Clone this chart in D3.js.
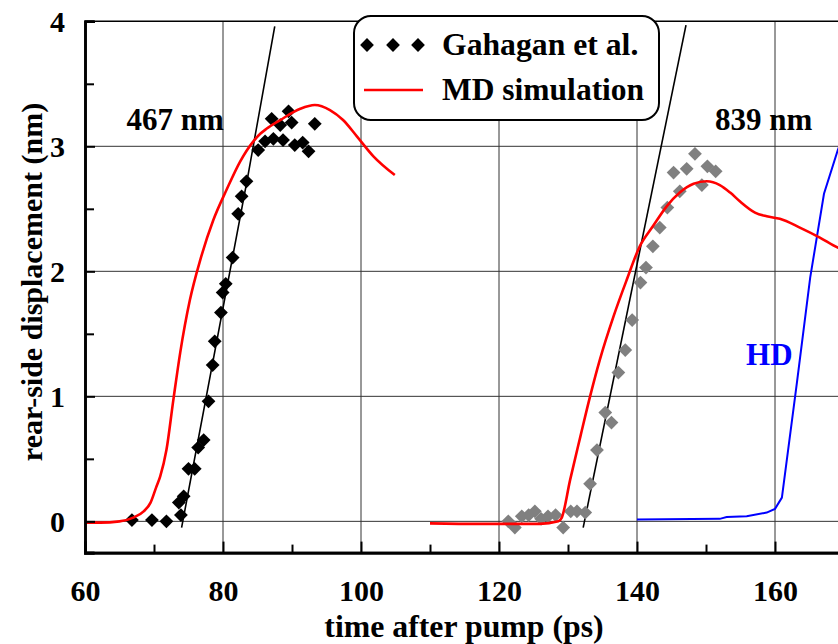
<!DOCTYPE html>
<html>

<head>
  <meta charset="utf8">
  <script src="https://d3js.org/d3.v7.min.js"></script>
  <style>
    body { margin: 0; background: #fff; }
    svg text { font-family: "Liberation Serif", "DejaVu Serif", serif !important; font-weight: bold; fill: black; }
  </style>
</head>

<body>
  <svg id="chart" width="838" height="644" font-family="Liberation Serif"></svg>
  <script>
    // Gahagan et al. measurements, 467 nm film (time ps, displacement nm)
    var gahagan467 = [
      [66.8, 0.01], [69.7, 0.01], [71.8, 0.0], [73.9, 0.05], [73.6, 0.15], [74.3, 0.2],
      [75.0, 0.42], [75.9, 0.42], [76.4, 0.59], [77.2, 0.65], [77.9, 0.96], [78.5, 1.25],
      [78.8, 1.44], [79.7, 1.67], [79.95, 1.83], [80.4, 1.9], [81.4, 2.11], [82.2, 2.46],
      [82.7, 2.6], [83.4, 2.72], [85.1, 2.97], [86.1, 3.04], [87.3, 3.06], [88.7, 3.05],
      [87.05, 3.22], [88.3, 3.17], [89.5, 3.28], [89.95, 3.19], [90.4, 3.01], [91.55, 3.03],
      [92.4, 2.96], [93.3, 3.18]
    ];
    // Gahagan et al. measurements, 839 nm film
    var gahagan839 = [
      [121.35, 0.0], [122.3, -0.05], [123.3, 0.04], [124.3, 0.05], [125.2, 0.08], [126.1, 0.02],
      [127.1, 0.04], [128.2, 0.05], [129.3, -0.05], [130.4, 0.08], [131.3, 0.08], [132.5, 0.07],
      [133.2, 0.3], [134.2, 0.57], [135.4, 0.87], [136.3, 0.79], [137.3, 1.19], [138.3, 1.37],
      [139.3, 1.61], [140.5, 1.91], [141.3, 2.03], [142.3, 2.2], [143.3, 2.35], [144.4, 2.51],
      [146.2, 2.64], [145.3, 2.79], [147.2, 2.82], [148.4, 2.94], [149.4, 2.69], [150.2, 2.84],
      [151.4, 2.8]
    ];
    // MD simulation curves
    var md467 = [
      [60, -0.01], [62.2, -0.01], [65, 0.0], [67, 0.03], [68.5, 0.08], [69.5, 0.15], [70.3, 0.27],
      [70.9, 0.36], [71.8, 0.57], [72.8, 0.97], [73.8, 1.35], [75.2, 1.77], [76.7, 2.09],
      [78.6, 2.41], [80.5, 2.65], [82.5, 2.88], [84.4, 3.04], [85.4, 3.1], [86.3, 3.14],
      [88.3, 3.21], [91.2, 3.3], [93.3, 3.33], [95.5, 3.29], [97.4, 3.21], [99.4, 3.08],
      [101.8, 2.92], [104.9, 2.77]
    ];
    var md839 = [
      [110, -0.016], [117.2, -0.02], [125.9, -0.02], [128.6, 0.0], [129.1, 0.03], [130.3, 0.33],
      [131.8, 0.68], [133.2, 1.0], [134.6, 1.29], [136.6, 1.64], [138.5, 1.93], [140.4, 2.2],
      [142.3, 2.36], [144.3, 2.52], [146.2, 2.63], [148.2, 2.7], [150.1, 2.72], [152.0, 2.69],
      [153.5, 2.63], [154.9, 2.56], [157.1, 2.47], [158.8, 2.44], [160.7, 2.42], [163.6, 2.35],
      [166.5, 2.27], [169.1, 2.19], [170, 2.17]
    ];
    // hydrodynamic (HD) result
    var hd = [
      [140, 0.015], [152, 0.02], [153, 0.035], [155.9, 0.04], [158.8, 0.07], [160, 0.1],
      [161, 0.19], [163.2, 1.12], [165.1, 1.95], [167.1, 2.62], [169.1, 2.97], [170, 3.1]
    ];
    // fitted straight lines
    var fit467 = [[74.0, -0.05], [83.6, 2.76], [87.5, 3.96]];
    var fit839 = [[132.2, -0.05], [147.1, 3.97]];

    var xMajor = [60, 80, 100, 120, 140, 160];
    var xMinor = [70, 90, 110, 130, 150, 170];
    var yMajor = [0, 1, 2, 3, 4];
    var yMinor = [0.5, 1.5, 2.5, 3.5];
    var annotations = [
      { text: '467 nm', t: 66.0, v: 3.13, color: 'black' },
      { text: '839 nm', t: 151.3, v: 3.13, color: 'black' },
      { text: 'HD', t: 155.8, v: 1.25, color: '#0000ff' }
    ];

    var FONT = '"Liberation Serif", "DejaVu Serif", serif';
    var chart = d3.select('#chart');
    var x = d3.scaleLinear().domain([60, 170]).range([85, 844]);
    var y = d3.scaleLinear().domain([-0.25, 4]).range([552.6, 21.3]);

    chart.append('defs').append('clipPath').attr('id', 'plot')
      .append('rect').attr('x', 85).attr('y', 0).attr('width', 760).attr('height', 553);

    // grid
    var grid = chart.append('g').attr('stroke', '#333').attr('stroke-width', 1);
    grid.selectAll('.gx').data(xMajor.slice(1)).enter().append('line')
      .attr('x1', (d) => x(d)).attr('x2', (d) => x(d))
      .attr('y1', y(-0.25)).attr('y2', y(4));
    grid.selectAll('.gy').data(yMajor.slice(0, 4)).enter().append('line')
      .attr('x1', x(60)).attr('x2', x(170))
      .attr('y1', (d) => y(d)).attr('y2', (d) => y(d));

    var plot = chart.append('g').attr('clip-path', 'url(#plot)');
    var line = d3.line().x((d) => x(d[0])).y((d) => y(d[1]));
    var smooth = d3.line().x((d) => x(d[0])).y((d) => y(d[1])).curve(d3.curveMonotoneX);

    plot.append('path').attr('d', line(fit467)).attr('fill', 'none').attr('stroke', 'black').attr('stroke-width', 1.6);
    plot.append('path').attr('d', line(fit839)).attr('fill', 'none').attr('stroke', 'black').attr('stroke-width', 1.6);
    plot.append('path').attr('d', line(hd)).attr('fill', 'none').attr('stroke', '#0000ff').attr('stroke-width', 2);

    var diamond = d3.symbol().type(d3.symbolSquare).size(95);
    plot.selectAll('.g467').data(gahagan467).enter().append('path')
      .attr('d', diamond)
      .attr('transform', (d) => 'translate(' + x(d[0]) + ',' + y(d[1]) + ') rotate(45)')
      .attr('fill', 'black');
    plot.selectAll('.g839').data(gahagan839).enter().append('path')
      .attr('d', diamond)
      .attr('transform', (d) => 'translate(' + x(d[0]) + ',' + y(d[1]) + ') rotate(45)')
      .attr('fill', '#808080');

    plot.append('path').attr('d', smooth(md467)).attr('fill', 'none').attr('stroke', '#ff0000').attr('stroke-width', 2.6);
    plot.append('path').attr('d', smooth(md839)).attr('fill', 'none').attr('stroke', '#ff0000').attr('stroke-width', 2.6);

    // axes
    var xAxis = chart.append('g').attr('transform', 'translate(0,' + y(-0.25) + ')')
      .call(d3.axisBottom(x).tickValues(xMajor).tickSize(-11).tickFormat(d3.format('d')));
    xAxis.selectAll('text').attr('y', 0).attr('dy', 48).style('font-size', '30px');
    chart.append('g').attr('transform', 'translate(0,' + y(-0.25) + ')')
      .call(d3.axisBottom(x).tickValues(xMinor).tickSize(-8).tickFormat(''));

    var yAxis = chart.append('g').attr('transform', 'translate(' + x(60) + ',0)')
      .call(d3.axisLeft(y).tickValues(yMajor).tickSize(-10).tickPadding(20).tickFormat(d3.format('d')));
    yAxis.selectAll('text').style('font-size', '30px').attr('dy', '0.35em');
    chart.append('g').attr('transform', 'translate(' + x(60) + ',0)')
      .call(d3.axisLeft(y).tickValues(yMinor).tickSize(-9).tickFormat(''));

    chart.selectAll('.domain').attr('stroke-width', 2.6);
    chart.selectAll('.tick line').attr('stroke-width', 2);

    chart.append('line').attr('x1', x(60)).attr('x2', x(170)).attr('y1', y(4)).attr('y2', y(4))
      .attr('stroke', 'black').attr('stroke-width', 1.6);

    // axis titles
    chart.append('text').attr('x', 464).attr('y', 637).attr('text-anchor', 'middle')
      .style('font-size', '31.8px').text('time after pump (ps)');
    chart.append('text').attr('transform', 'translate(42,282) rotate(-90)').attr('text-anchor', 'middle')
      .style('font-size', '30px').text('rear-side displacement (nm)');

    // annotations
    chart.selectAll('.ann').data(annotations).enter().append('text')
      .attr('x', (d) => x(d.t)).attr('y', (d) => y(d.v))
      .style('font-size', '31px').style('fill', (d) => d.color)
      .text((d) => d.text);

    // legend
    var legend = chart.append('g');
    legend.append('rect').attr('x', 354).attr('y', 16).attr('width', 305).attr('height', 104)
      .attr('rx', 17).attr('fill', 'white').attr('stroke', 'black').attr('stroke-width', 2);
    legend.selectAll('.lm').data([367, 393, 418]).enter().append('path')
      .attr('d', diamond)
      .attr('transform', (d) => 'translate(' + d + ',45) rotate(45)')
      .attr('fill', 'black');
    legend.append('line').attr('x1', 364).attr('x2', 423).attr('y1', 90).attr('y2', 90)
      .attr('stroke', '#ff0000').attr('stroke-width', 2.6);
    legend.append('text').attr('x', 442).attr('y', 55).style('font-size', '31.7px').text('Gahagan et al.');
    legend.append('text').attr('x', 442).attr('y', 100).style('font-size', '31.5px').text('MD simulation');

    chart.selectAll('text').style('font-family', FONT);
  </script>
</body>

</html>
